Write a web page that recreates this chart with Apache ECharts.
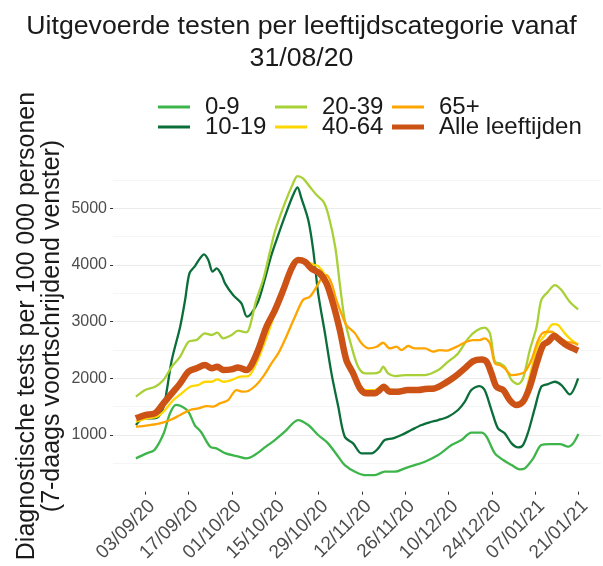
<!DOCTYPE html>
<html><head><meta charset="utf-8">
<script src="https://cdn.jsdelivr.net/npm/echarts@6/dist/echarts.min.js"></script>
<style>html,body{margin:0;padding:0;background:#fff}#c{width:603px;height:566px}</style>
</head><body><div id="c"></div>
<script>
// x values: days since 31/08/20
const tickDays = [3,17,31,45,59,73,87,101,115,129,143];
const tickLabels = ['03/09/20','17/09/20','01/10/20','15/10/20','29/10/20','12/11/20','26/11/20','10/12/20','24/12/20','07/01/21','21/01/21'];
const yTicks = [1000,2000,3000,4000,5000];
const seriesNames = ['0-9','10-19','20-39','40-64','65+','Alle leeftijden'];
const seriesColors = ['#3db54a','#0b6e3a','#a8d037','#ffd700','#ffa500','#cc5216'];

const s0_9 = [[0,588],[3.5,676],[6,735],[9,1030],[11,1380],[13,1530],[15,1500],[17,1410],[19,1176],[21,1058],[24,794],[26,764],[29,676],[32.5,629],[35.7,588],[38.4,647],[42,794],[44.9,911],[48.1,1058],[52.4,1264],[55.7,1176],[58.9,1000],[62.1,853],[65.4,617],[67.5,470],[70.8,353],[74,294],[77.2,294],[80.4,353],[83.7,353],[86.9,412],[90.1,470],[93.4,529],[97.7,647],[102,823],[105.2,911],[108.4,1041],[111.7,1041],[113.3,970],[116,676],[118.7,559],[121.4,470],[124,394],[125.7,412],[128.4,588],[131,823],[133.7,841],[137,841],[139.7,794],[141.3,853],[143,1017]];
const s10_19 = [[0,1176],[2.5,1294],[5.7,1294],[7.3,1323],[9,1500],[10,1793],[11.6,2323],[14.3,2911],[15.9,3381],[17.3,3851],[19.1,3981],[20.7,4116],[22,4187],[23.4,4087],[24.8,3881],[26.1,3940],[27.7,3822],[28.8,3675],[31.4,3469],[34.1,3322],[35.9,3087],[37.3,3146],[39.5,3352],[41.6,3734],[43.8,4175],[46.2,4560],[48.1,4851],[50.8,5233],[52.2,5368],[53.5,5174],[55.7,4792],[57.3,4263],[58.9,3499],[61.1,2793],[63.2,2087],[65.4,1499],[67.5,970],[70.2,853],[72.9,676],[76.1,676],[78.3,764],[80.4,911],[83.1,941],[85.8,1000],[89,1088],[92.3,1176],[95,1225],[97.7,1264],[100.9,1323],[104.1,1441],[106.3,1588],[108.4,1793],[111.1,1864],[112.7,1793],[114.9,1441],[117,1117],[119.2,1029],[121.4,853],[123.5,782],[125.1,823],[126.8,1058],[128.9,1470],[131,1852],[133.2,1899],[135.4,1940],[137.5,1882],[140.2,1717],[142.9,1999]];
const s20_39 = [[0,1676],[3,1793],[6.2,1852],[8.9,1970],[11.6,2205],[14.3,2381],[17,2646],[19.6,2675],[22.3,2793],[24.5,2764],[26.3,2805],[28.2,2705],[30.9,2764],[33,2840],[35.7,2811],[36.8,2911],[38.9,3381],[41.1,3734],[43.2,4204],[44.9,4586],[48.1,5086],[50.8,5439],[52.2,5568],[54,5527],[56.2,5380],[58.4,5233],[60.6,5116],[62.2,4880],[64.4,4322],[66,3616],[67.5,3028],[69.7,2558],[71.8,2205],[74,2087],[76.7,2087],[78.8,2117],[79.9,2205],[81.5,2087],[83.7,2040],[86.9,2058],[90.1,2058],[93.4,2058],[97.7,2146],[100.9,2293],[104.1,2440],[107.4,2705],[110,2840],[112.7,2893],[114.4,2793],[116,2293],[117.6,2264],[119.2,2205],[121.4,1970],[123.5,1899],[125.1,1999],[127.3,2499],[129.5,2911],[131,3381],[133.2,3528],[135.4,3646],[137.5,3557],[140.2,3352],[142.9,3216]];
const s40_64 = [[0,1235],[3.5,1294],[6.8,1323],[8.9,1411],[12.1,1617],[14.8,1735],[17.5,1852],[20.2,1882],[22.3,1940],[24.5,1940],[26.3,1982],[28.2,1940],[30.9,1970],[33.6,2029],[36.3,2040],[38.4,2205],[41.1,2558],[43.8,2969],[46,3322],[48,3600],[51.4,4087],[54.6,4070],[57.8,3998],[58.9,3981],[61.1,3822],[63.2,3499],[65.4,3028],[67.5,2440],[69.7,2146],[71.8,1882],[74.5,1793],[77.2,1793],[80.1,1882],[82,1805],[84.7,1790],[87.8,1815],[91.2,1815],[93.4,1830],[96.6,1840],[99.8,1930],[103.1,2050],[106.3,2190],[109,2320],[111.7,2350],[113.3,2310],[114.9,2100],[116.5,1870],[118.7,1810],[120.8,1640],[123,1550],[125.1,1610],[127.3,2050],[128.5,2300],[130,2600],[132.2,2764],[134.8,2958],[136.5,2940],[138.6,2793],[140.8,2675],[142.9,2599]];
const s65 = [[0,1147],[4.6,1176],[7.8,1205],[11.1,1264],[14.3,1352],[17.5,1441],[20.2,1470],[22.9,1511],[25,1500],[27.1,1558],[29.8,1617],[32.5,1793],[34.7,1764],[36.3,1776],[38.9,1882],[41.1,2029],[43.8,2264],[46,2440],[48.1,2675],[51.4,3087],[54,3381],[56.2,3440],[58.4,3616],[60,3763],[61.6,3822],[63.2,3675],[64.8,3381],[66.4,3146],[68,2940],[70.8,2793],[72.9,2617],[75.1,2528],[77.8,2558],[79.9,2628],[82,2528],[84.2,2558],[85.8,2499],[88,2570],[90.1,2528],[93.4,2528],[96,2470],[98.2,2499],[100.4,2487],[102.5,2528],[104.1,2570],[106.8,2646],[109,2675],[111.1,2675],[112.7,2705],[114.4,2617],[116,2264],[117.6,2234],[119.2,2176],[121.4,2058],[124,2076],[125.7,2117],[127.8,2323],[130,2675],[131.6,2805],[134.3,2822],[136.5,2734],[139.1,2646],[141.3,2628],[142.9,2587]];
const sAll = [[0,1294],[3,1352],[6.2,1382],[8.9,1558],[11.6,1735],[14.3,1911],[17,2117],[19.6,2176],[22.3,2234],[24.5,2176],[26.3,2205],[28.2,2146],[30.9,2158],[33,2193],[35.7,2146],[37.3,2234],[39.5,2499],[42.2,2911],[44.9,3200],[47.6,3557],[50.3,3940],[52.4,4087],[54.6,4057],[56.7,3940],[59.4,3851],[61.6,3675],[63.7,3322],[65.9,2852],[68,2323],[70.2,2087],[72.4,1823],[74.5,1735],[77.2,1735],[78.8,1793],[80.1,1852],[82,1764],[84.7,1764],[87.8,1793],[91.2,1793],[93.4,1811],[96.6,1823],[99.8,1911],[103.1,2029],[106.3,2176],[109,2305],[111.7,2334],[113.3,2293],[114.9,2087],[116.5,1852],[118.7,1793],[120.8,1617],[123,1529],[125.1,1588],[127.3,1852],[129.5,2264],[131.6,2587],[133.2,2646],[135.2,2746],[137,2675],[139.1,2587],[141.3,2528],[142.9,2487]];

const seriesData = [s0_9, s10_19, s20_39, s40_64, s65, sAll];
const FONT = 'Liberation Sans, Arial, sans-serif';
const MAJ = '#ebebeb', MIN = '#f3f3f3', T = 'transparent';

const legendPos = [[158,107],[158,127],[275,107],[275,127],[392,107],[392,127]];
const legends = seriesNames.map((n,i)=>({
  data:[n], left: legendPos[i][0], top: legendPos[i][1]-12, padding:0,
  icon:'rect', itemWidth:32, itemHeight: i===5?5:3,
  itemStyle:{color:seriesColors[i]},
  textStyle:{fontSize:24, color:'#1a1a1a', fontFamily:FONT, padding:[0,0,0,10]}
}));

const chart = echarts.init(document.getElementById('c'), null, {renderer:'canvas'});
chart.setOption({
  animation:false,
  backgroundColor:'#fff',
  title:{text:'Uitgevoerde testen per leeftijdscategorie vanaf\n31/08/20', left:'center', top:6,
    textStyle:{fontSize:26.7, fontWeight:'normal', color:'#1a1a1a', fontFamily:FONT, lineHeight:32}},
  legend: legends,
  grid:{left:113, right:2, top:161, bottom:74.3, containLabel:false, outerBoundsMode:'none'},
  xAxis:{type:'value', min:-7.4, max:150.3,
    axisLine:{show:false, onZero:false}, splitLine:{show:false},
    axisTick:{show:true, customValues:tickDays, length:3, lineStyle:{color:'#333'}},
    axisLabel:{customValues:tickDays, rotate:45, margin:5, fontSize:19, color:'#4d4d4d', fontFamily:FONT,
      verticalAlign:'top', align:'right',
      formatter:v=>tickLabels[tickDays.indexOf(Math.round(v))]}},
  yAxis:[
    {type:'value', min:0, max:5834, interval:500, position:'left',
      axisLine:{show:false, onZero:false}, splitLine:{show:false},
      axisTick:{show:true, customValues:yTicks, length:3, lineStyle:{color:'#333'}},
      axisLabel:{customValues:yTicks, margin:6, fontSize:16, color:'#4d4d4d', fontFamily:FONT,
        formatter:v=>String(Math.round(v))}},
    {type:'value', min:0, max:5834, interval:1000, position:'left',
      axisLine:{show:false, onZero:false}, axisTick:{show:false}, axisLabel:{show:false},
      splitLine:{show:true, lineStyle:{color:[T,MAJ,MAJ,MAJ,MAJ,MAJ,T], width:1.2}}},
    {type:'value', min:0, max:5834, interval:500, position:'left',
      axisLine:{show:false, onZero:false}, axisTick:{show:false}, axisLabel:{show:false},
      splitLine:{show:true, lineStyle:{color:[T,MIN,T,MIN,T,MIN,T,MIN,T,MIN,T,MIN,T], width:0.8}}}
  ],
  graphic:[{type:'text', x:40, y:326, rotation:Math.PI/2,
    style:{text:'Diagnostische tests per 100 000 personen\n(7-daags voortschrijdend venster)',
      font:'25px '+FONT, fill:'#1a1a1a', align:'center', verticalAlign:'middle', lineHeight:25}}],
  series: seriesNames.map((n,i)=>({
    name:n, type:'line', data:seriesData[i], xAxisIndex:0, yAxisIndex:0,
    symbol:'none', smooth:0.3, color:seriesColors[i],
    lineStyle:{width: i===5?6.5:2.3, color:seriesColors[i]}, z: 2+i
  }))
});
</script></body></html>
